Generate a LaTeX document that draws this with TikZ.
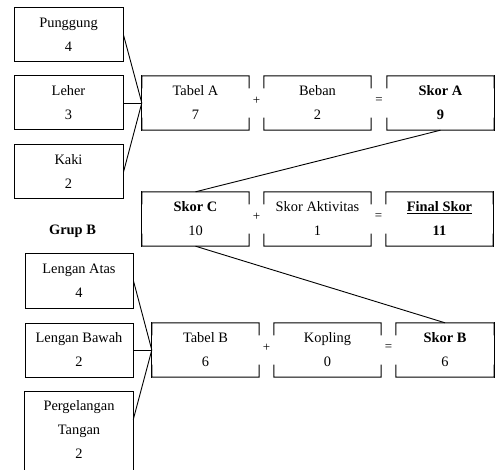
\documentclass[tikz,border=0pt]{standalone}
\usepackage{fontspec}
\setmainfont{Liberation Serif}
\usetikzlibrary{calc}

\tikzset{
  boxline/.style={line width=1pt, black, line cap=rect},
  wire/.style={line width=0.9pt, black},
  card/.style={rectangle, draw=none, minimum width=107pt, minimum height=54pt,
    inner sep=0pt, align=center, font=\fontsize{14.4}{24}\selectfont},
  inbox/.style={card, draw, line width=1pt},
  sign/.style={inner sep=0pt, font=\fontsize{13}{13}\selectfont},
  heading/.style={inner sep=0pt, font=\bfseries\fontsize{14.4}{24}\selectfont},
}

% Frame of a card in a sum row: #2 / #3 = 1 leaves a gap in the left / right side
\newcommand{\cardframe}[3]{%
  \draw[boxline] ($(#1.north west)!0.22!(#1.south west)$) -- (#1.north west)
     -- (#1.north east) -- ($(#1.north east)!0.22!(#1.south east)$);
  \draw[boxline] ($(#1.south west)!0.22!(#1.north west)$) -- (#1.south west)
     -- (#1.south east) -- ($(#1.south east)!0.22!(#1.north east)$);
  \ifnum#2=0 \draw[boxline] (#1.north west) -- (#1.south west); \fi
  \ifnum#3=0 \draw[boxline] (#1.north east) -- (#1.south east); \fi
}

\begin{document}
\begin{tikzpicture}[x=1pt, y=-1pt]
\clip (0,0) rectangle (495,470);
\fill[white] (0,0) rectangle (495,470);

% ---- group A inputs
\node[inbox, minimum width=109pt] (pung) at (68.5,35)  {Punggung\\4};
\node[inbox, minimum width=109pt] (leher) at (68.5,103) {Leher\\3};
\node[inbox, minimum width=109pt] (kaki) at (68.5,172) {Kaki\\2};

% ---- row A
\node[card] (taba) at (195.5,103) {Tabel A\\7};
\node[card] (beban) at (317.5,103) {Beban\\2};
\node[card] (skora) at (440.5,103) {\textbf{Skor A}\\\textbf{9}};
\node[sign] (plusa) at (256.5,101) {+};
\node[sign] (eqa) at (379,101) {=};
\cardframe{taba}{0}{1}
\cardframe{beban}{1}{1}
\cardframe{skora}{1}{0}

% ---- row C
\node[card] (skorc) at (195.5,219) {\textbf{Skor C}\\10};
\node[card] (aktiv) at (317.5,219) {Skor Aktivitas\\1};
\node[card] (final) at (439.5,219) {\textbf{\underline{Final Skor}}\\\textbf{11}};
\node[sign] (plusc) at (256.5,217) {+};
\node[sign] (eqc) at (378.5,217) {=};
\cardframe{skorc}{0}{1}
\cardframe{aktiv}{1}{1}
\cardframe{final}{1}{0}

% ---- group B
\node[heading] (grupb) at (72.5,231) {Grup B};
\node[inbox, minimum width=108pt] (atas) at (79,281) {Lengan Atas\\4};
\node[inbox, minimum width=108pt] (bawah) at (79,350) {Lengan Bawah\\2};
\node[card, minimum width=108pt, minimum height=76pt] (perg) at (79,430) {Pergelangan\\Tangan\\2};
\draw[boxline] (perg.south west) ++(0,20) -- (perg.north west) -- (perg.north east) -- ++(0,100);
\coordinate (pergport) at ($(perg.north east)+(0,28)$);

% ---- row B
\node[card] (tabb) at (205.5,350) {Tabel B\\6};
\node[card] (kopl) at (327.5,350) {Kopling\\0};
\node[card, minimum width=98pt] (skorb) at (445,350) {\textbf{Skor B}\\6};
\node[sign] (plusb) at (266.5,348) {+};
\node[sign] (eqb) at (388.5,348) {=};
\cardframe{tabb}{0}{1}
\cardframe{kopl}{1}{1}
\cardframe{skorb}{1}{0}

% ---- connectors
\draw[wire] (pung.east) -- (taba.west);
\draw[wire] (leher.east) -- (taba.west);
\draw[wire] (kaki.east) -- (taba.west);
\draw[wire] (atas.east) -- (tabb.west);
\draw[wire] (bawah.east) -- (tabb.west);
\draw[wire] (pergport) -- (tabb.west);
\draw[wire] (skora.south) -- (skorc.north);
\draw[wire] (skorc.south) -- (skorb.north);
\end{tikzpicture}
\end{document}
